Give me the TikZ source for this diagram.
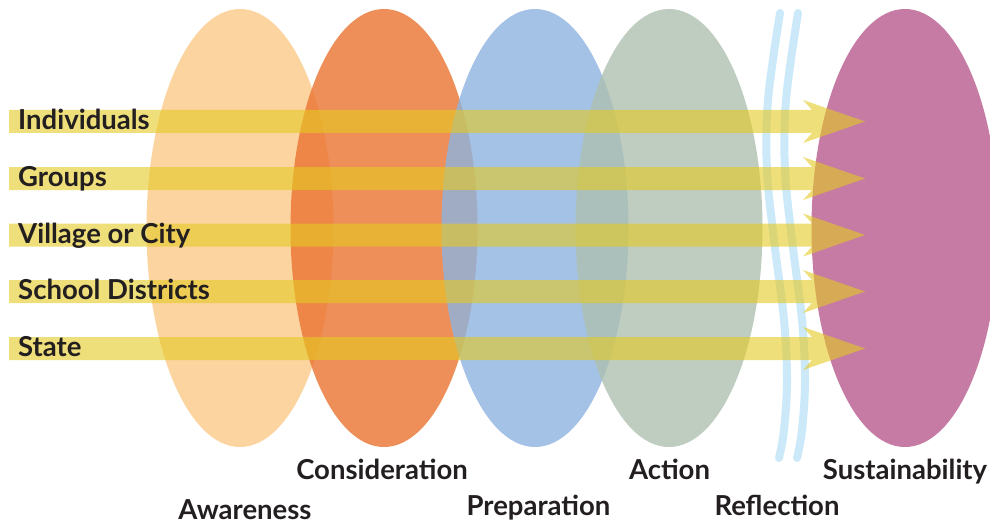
\documentclass[tikz,border=0pt]{standalone}
\usepackage{fontspec}
\setmainfont{Lato}
\usetikzlibrary{shapes.geometric}
\definecolor{peach}{RGB}{251,201,136}
\definecolor{orng}{RGB}{234,115,49}
\definecolor{bluec}{RGB}{141,179,224}
\definecolor{greenc}{RGB}{175,192,176}
\definecolor{pinkc}{RGB}{197,123,163}
\definecolor{yel}{RGB}{228,202,33}
\definecolor{refl}{RGB}{203,233,248}
\definecolor{txt}{RGB}{35,31,32}
\tikzset{
  stage/.style={ellipse, minimum width=187pt, minimum height=438pt, inner sep=0pt, fill opacity=0.8},
  band/.style={fill=yel, fill opacity=0.6},
  refline/.style={draw=refl, line width=8pt, line cap=round},
  lbl/.style={text=txt, font=\fontsize{27.5}{31}\selectfont\bfseries, inner sep=0pt},
}
\begin{document}
\begin{tikzpicture}[x=1pt,y=-1pt]
\useasboundingbox (0,0) rectangle (990,524);
% stages
\node[stage, fill=peach] (aw) at (240,228) {};
\node[stage, fill=orng] (co) at (384,228) {};
\node[stage, fill=bluec] (pr) at (535,228) {};
\node[stage, fill=greenc] (ac) at (669,228) {};
\node[stage, fill=pinkc, fill opacity=1] (su) at (905,228) {};
% reflection lines
\draw[refline] plot[smooth, tension=0.6] coordinates {(780,13) (768,100) (767,170) (774,240) (784,320) (787,380) (784,430) (779,458)};
\draw[refline] plot[smooth, tension=0.6] coordinates {(798,13) (786,100) (785,170) (792,240) (802,320) (805,380) (802,430) (797,458)};
% arrows
\foreach \c in {121.5,178.5,235,291.5,348.5}{
  \fill[band] (9,\c-11.5) -- (812,\c-11.5) -- (803,\c-21.5) -- (865,\c) -- (803,\c+21.5) -- (812,\c+11.5) -- (9,\c+11.5) -- cycle;
}
% left labels
\node[lbl, anchor=base west] (ind) at (18,129.5) {Individuals};
\node[lbl, anchor=base west] (grp) at (18,186.5) {Groups};
\node[lbl, anchor=base west] (vil) at (18,243) {Village or City};
\node[lbl, anchor=base west] (sch) at (18,299.5) {School Districts};
\node[lbl, anchor=base west] (sta) at (18,356.5) {State};
% stage labels
\node[lbl, anchor=base] (law) at (245,519) {Awareness};
\node[lbl, anchor=base] (lco) at (382,479) {Consideration};
\node[lbl, anchor=base] (lpr) at (538.5,515) {Preparation};
\node[lbl, anchor=base] (lac) at (669.5,479) {Action};
\node[lbl, anchor=base] (lre) at (777,515) {Reflection};
\node[lbl, anchor=base] (lsu) at (905,479) {Sustainability};
\end{tikzpicture}
\end{document}
